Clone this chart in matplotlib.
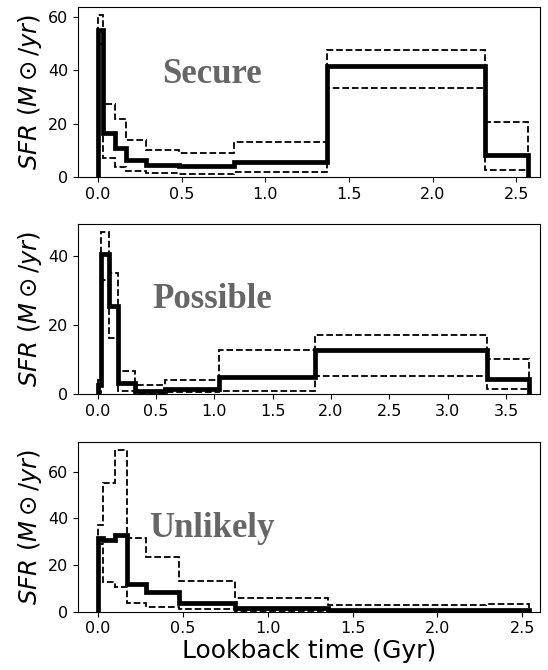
import matplotlib
matplotlib.use("Agg")
import matplotlib.pyplot as plt
import numpy as np

# ---- data ----
secure_edges = [0.0, 0.03, 0.10, 0.169, 0.285, 0.481, 0.812, 1.371, 2.315, 2.572]
secure_sfr = [55.0, 16.5, 11.0, 6.4, 4.5, 4.1, 5.5, 41.6, 8.2]
secure_hi = [60.6, 27.5, 21.7, 13.8, 10.1, 9.1, 13.2, 47.7, 20.7]
secure_lo = [50.0, 7.3, 3.9, 2.2, 1.4, 1.2, 1.8, 33.5, 2.6]

possible_edges = [0.0, 0.03, 0.10, 0.179, 0.322, 0.578, 1.037, 1.860, 3.337, 3.700]
possible_sfr = [2.6, 40.5, 25.5, 3.3, 1.0, 1.5, 4.8, 12.75, 4.3]
possible_hi = [4.0, 46.9, 35.0, 6.8, 2.6, 4.1, 12.6, 17.1, 10.1]
possible_lo = [0.3, 33.0, 16.1, 1.0, 0.4, 0.5, 1.0, 5.2, 1.4]

unlikely_edges = [0.0, 0.03, 0.10, 0.168, 0.284, 0.478, 0.805, 1.355, 2.286, 2.540]
unlikely_sfr = [31.4, 30.6, 32.8, 12.0, 8.6, 3.9, 1.7, 0.8, 0.8]
unlikely_hi = [37.0, 55.0, 69.3, 31.4, 23.3, 13.1, 5.7, 2.9, 3.3]
unlikely_lo = [29.0, 12.9, 10.7, 3.6, 2.1, 1.0, 0.5, 0.3, 0.3]

labels = ["Secure", "Possible", "Unlikely"]
xticks = [
    [0.0, 0.5, 1.0, 1.5, 2.0, 2.5],
    [0.0, 0.5, 1.0, 1.5, 2.0, 2.5, 3.0, 3.5],
    [0.0, 0.5, 1.0, 1.5, 2.0, 2.5],
]
yticks = [[0, 20, 40, 60], [0, 20, 40], [0, 20, 40, 60]]

panels = [
    (secure_edges, secure_sfr, secure_hi, secure_lo),
    (possible_edges, possible_sfr, possible_hi, possible_lo),
    (unlikely_edges, unlikely_sfr, unlikely_hi, unlikely_lo),
]
xlims = [(-0.12, 2.64), (-0.168, 3.79), (-0.118, 2.603)]
ylims = [(0, 63.7), (0, 49.2), (0, 72.9)]
text_pos = [(0.29, 0.60), (0.29, 0.553), (0.29, 0.49)]

fig = plt.figure(figsize=(5.48, 6.70), dpi=100)
boxes = [
    (0.1423, 0.7358, 0.8427, 0.2538),
    (0.1423, 0.4119, 0.8427, 0.2538),
    (0.1423, 0.0870, 0.8427, 0.2538),
]

for i, (edges, sfr, hi, lo) in enumerate(panels):
    ax = fig.add_axes(boxes[i])
    ax.stairs(hi, edges, baseline=0, color="black", lw=1.3, ls="--")
    ax.stairs(lo, edges, baseline=0, color="black", lw=1.3, ls="--")
    ax.stairs(sfr, edges, baseline=0, color="black", lw=3.4)
    ax.set_xlim(*xlims[i])
    ax.set_ylim(*ylims[i])
    ax.set_xticks(xticks[i])
    ax.set_xticklabels([f"{t:.1f}" for t in xticks[i]])
    ax.set_yticks(yticks[i])
    ax.tick_params(labelsize=11.5)
    ax.set_ylabel(r"$SFR\ (M\odot/yr)$", fontsize=17.5, labelpad=3)
    ax.text(text_pos[i][0], text_pos[i][1], labels[i], transform=ax.transAxes,
            ha="center", va="center", fontsize=25, fontweight="bold",
            family="Liberation Serif", color="#666666")
    if i == 2:
        ax.set_xlabel("Lookback time (Gyr)", fontsize=18, labelpad=2)

fig.savefig("out.png", dpi=100)
